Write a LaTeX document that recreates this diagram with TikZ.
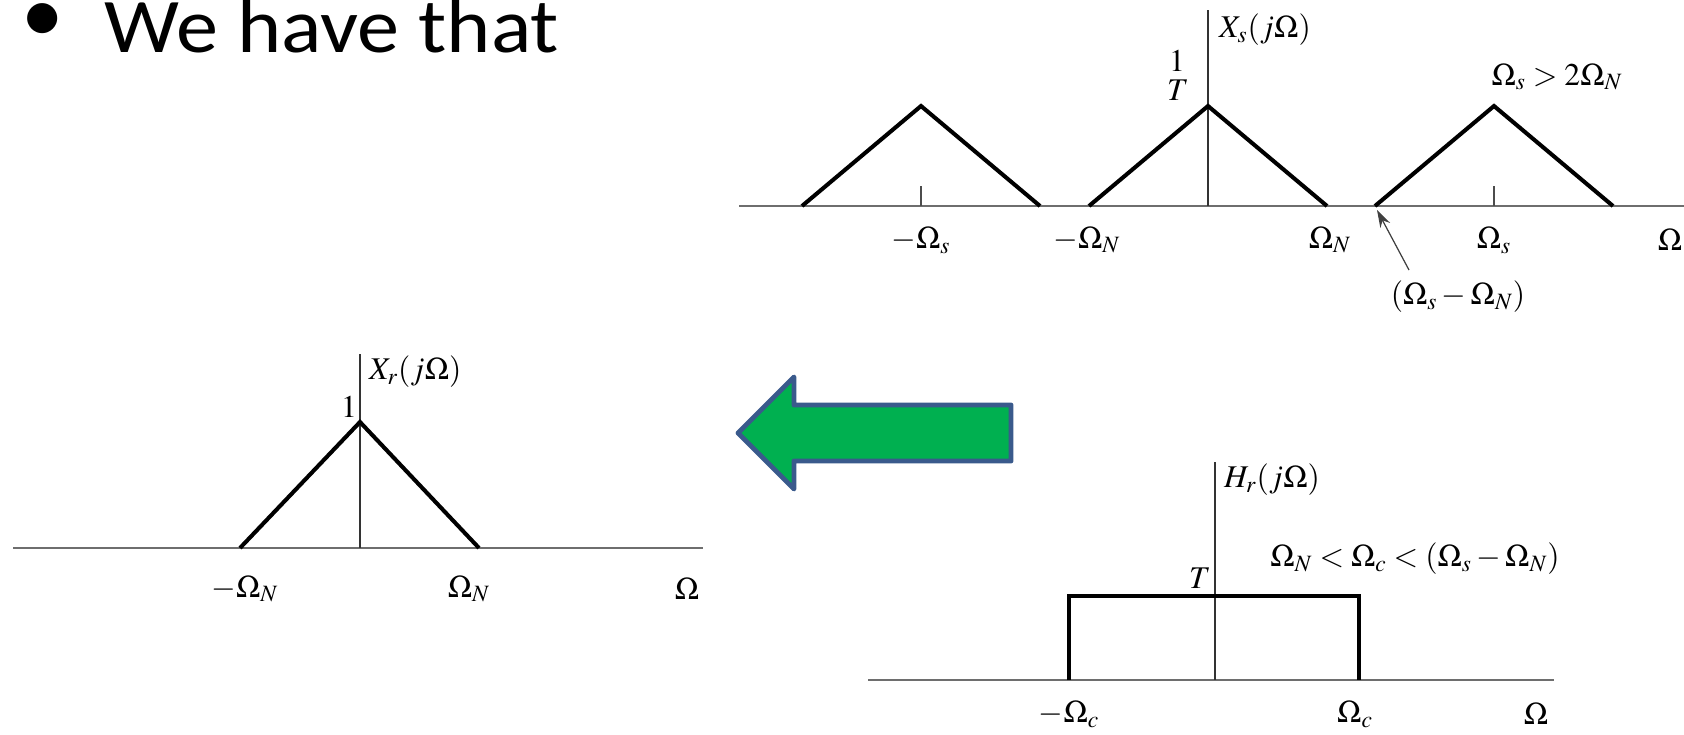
\documentclass[tikz,border=0pt]{standalone}
\usepackage{mathptmx}
\usepackage[no-math]{fontspec}
\newfontfamily\slidefont{Carlito}
\usetikzlibrary{arrows.meta}
\definecolor{pgreen}{HTML}{00B050}
\definecolor{pblue}{HTML}{3A5A8C}
\definecolor{pgrey}{HTML}{6E6E6E}
\tikzset{
  axis/.style={draw=pgrey, line width=1.1pt},
  yaxis/.style={draw=black!80, line width=0.7pt},
  spec/.style={draw=black, line width=2.3pt, line join=miter},
  tick/.style={draw=black!70, line width=0.6pt},
  lbl/.style={font=\fontsize{18}{21}\selectfont, inner sep=1pt},
  slide/.style={font=\slidefont\fontsize{44}{52}\selectfont, inner sep=0pt},
  ptr/.style={-{Stealth[length=3.5mm, width=2.2mm]}, draw=black!75, line width=0.7pt},
  bigarrow/.style={draw=pblue, fill=pgreen, line width=2.8pt, line join=round}
}

\begin{document}
\begin{tikzpicture}[x=0.02cm, y=-0.02cm]
  \useasboundingbox (0,0) rectangle (1684,734);

  % title line
  \node[slide] (dot) at (43,23) {\scalebox{1.1}{\textbullet}};
  \node[slide, anchor=base west] (title) at (104,52) {\scalebox{1.09}[1]{We have that}};

  % sampled spectrum X_s
  \draw[axis] (739,206) -- (1684,206);
  \draw[yaxis] (1208,10) -- (1208,206);
  \draw[spec] (802,206) -- (921,106) -- (1040,206);
  \draw[spec] (1089,206) -- (1208,106) -- (1327,206);
  \draw[spec] (1375,206) -- (1494,106) -- (1613,206);
  \draw[tick] (921,186) -- (921,206);
  \draw[tick] (1494,186) -- (1494,206);
  \node[lbl, anchor=west] (xs) at (1217,30) {$X_s(j\Omega)$};
  \node[lbl] (one) at (1177,61) {$1$};
  \node[lbl] (tee) at (1178,90) {$T$};
  \node[lbl] (cond) at (1557,77) {$\Omega_s > 2\Omega_N$};
  \node[lbl] (ms) at (921,240) {$-\Omega_s$};
  \node[lbl] (mn) at (1087,240) {$-\Omega_N$};
  \node[lbl] (pn) at (1330,240) {$\Omega_N$};
  \node[lbl] (ps) at (1494,240) {$\Omega_s$};
  \node[lbl] (om) at (1670,240) {$\Omega$};
  \node[lbl] (gap) at (1458,297) {$(\Omega_s - \Omega_N)$};
  \coordinate (gaptail) at (1409,270);
  \coordinate (gaptip) at (1377,210);
  \draw[ptr] (gaptail) -- (gaptip);

  % reconstructed spectrum X_r
  \draw[axis] (13,548) -- (703,548);
  \draw[yaxis] (360,354) -- (360,548);
  \draw[spec] (240,548) -- (360,422) -- (479,548);
  \node[lbl, anchor=west] (xr) at (367,372) {$X_r(j\Omega)$};
  \node[lbl] (peak) at (349,407) {$1$};
  \node[lbl] (rmn) at (245,589) {$-\Omega_N$};
  \node[lbl] (rpn) at (469,589) {$\Omega_N$};
  \node[lbl] (rom) at (687,589) {$\Omega$};

  % big arrow
  \draw[bigarrow] (738,433) -- (794,377) -- (794,405) -- (1011,405)
    -- (1011,461) -- (794,461) -- (794,489) -- cycle;

  % reconstruction filter H_r
  \draw[axis] (868,680) -- (1554,680);
  \draw[yaxis] (1215,462) -- (1215,680);
  \draw[spec] (1069,680) -- (1069,596) -- (1359,596) -- (1359,680);
  \node[lbl, anchor=west] (hr) at (1222,480) {$H_r(j\Omega)$};
  \node[lbl] (gain) at (1200,578) {$T$};
  \node[lbl] (band) at (1415,559) {$\Omega_N < \Omega_c < (\Omega_s - \Omega_N)$};
  \node[lbl] (hmc) at (1069,714) {$-\Omega_c$};
  \node[lbl] (hpc) at (1355,714) {$\Omega_c$};
  \node[lbl] (hom) at (1536,714) {$\Omega$};
\end{tikzpicture}
\end{document}
